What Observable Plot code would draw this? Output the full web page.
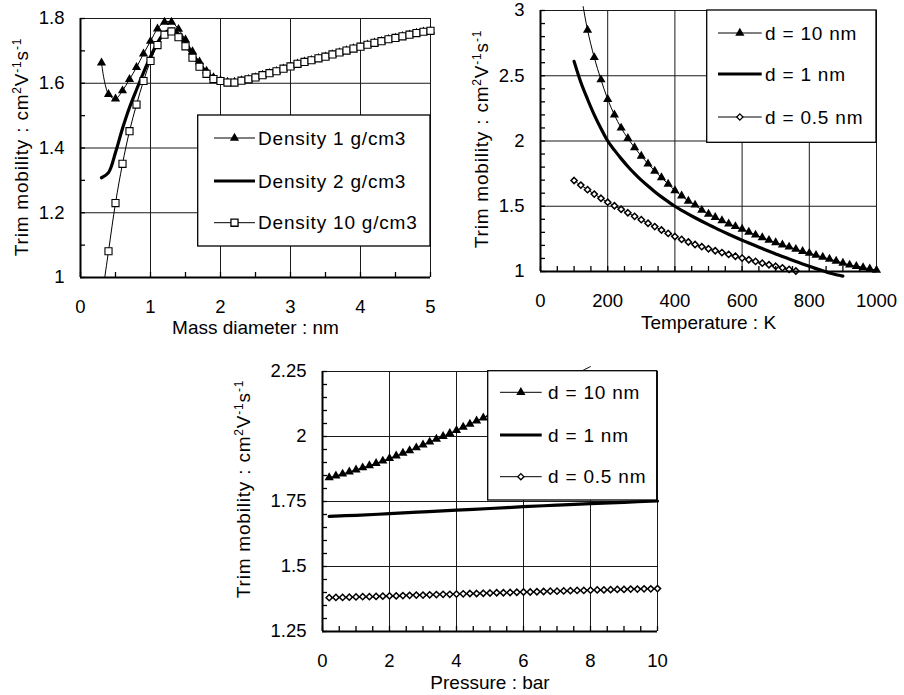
<!DOCTYPE html>
<html><head><meta charset="utf-8">
<script src="https://cdn.jsdelivr.net/npm/d3@7"></script>
<script src="https://cdn.jsdelivr.net/npm/@observablehq/plot@0.6"></script>
<style>
html,body{margin:0;padding:0;background:#fff;}
#wrap{position:relative;width:904px;height:695px;overflow:hidden;background:#fff;font-family:'Liberation Sans',Arial,sans-serif;}
#wrap svg{position:absolute;overflow:visible;}
g[aria-label="axis-title"] text, text.ytitle, text.legtext{letter-spacing:0.8px;}
</style></head><body><div id="wrap"></div>
<script>
// ---------- Panel 1 : mobility vs mass diameter ----------
const xDiam = [0.3,0.4,0.5,0.6,0.7,0.8,0.9,1.0,1.1,1.2,1.3,1.4,1.5,1.6,1.7,1.8,1.9,2.0,2.1,2.2,2.3,2.4,2.5,2.6,2.7,2.8,2.9,3.0,3.1,3.2,3.3,3.4,3.5,3.6,3.7,3.8,3.9,4.0,4.1,4.2,4.3,4.4,4.5,4.6,4.7,4.8,4.9,5.0];
const mobDensity1 = [1.663,1.566,1.552,1.577,1.612,1.649,1.691,1.730,1.768,1.789,1.789,1.767,1.734,1.698,1.666,1.638,1.618,1.609,1.604,1.604,1.608,1.612,1.618,1.625,1.631,1.637,1.645,1.652,1.660,1.666,1.671,1.677,1.682,1.689,1.695,1.701,1.707,1.713,1.719,1.725,1.730,1.736,1.740,1.745,1.750,1.755,1.759,1.762];
const mobDensity2 = [1.308,1.324,1.386,1.460,1.525,1.580,1.633,1.682,1.725,1.755,1.765,1.752,1.724,1.690,1.660,1.634,1.616,1.608,1.603,1.603,1.608,1.612,1.618,1.625,1.631,1.637,1.645,1.652,1.660,1.666,1.671,1.677,1.682,1.689,1.695,1.701,1.707,1.713,1.719,1.725,1.730,1.736,1.740,1.745,1.750,1.755,1.759,1.762];
const mobDensity10 = [0.930,1.081,1.230,1.351,1.452,1.534,1.607,1.669,1.718,1.750,1.760,1.742,1.714,1.679,1.651,1.629,1.613,1.607,1.602,1.602,1.608,1.612,1.618,1.625,1.631,1.637,1.645,1.652,1.660,1.666,1.671,1.677,1.682,1.689,1.695,1.701,1.707,1.713,1.719,1.725,1.730,1.736,1.740,1.745,1.750,1.755,1.759,1.762];
const legend1Labels = ["Density 1 g/cm3","Density 2 g/cm3","Density 10 g/cm3"];
const p1XTicks = [0,1,2,3,4,5];
const p1YTicks = [1,1.2,1.4,1.6,1.8];

// ---------- Panel 2 : mobility vs temperature ----------
const tempD10 = [127,140,160,180,200,220,240,260,280,300,320,340,360,380,400,420,440,460,480,500,520,540,560,580,600,620,640,660,680,700,720,740,760,780,800,820,840,860,880,900,920,940,960,980,1000];
const mobTD10 = [3.03,2.85,2.64,2.47,2.32,2.20,2.10,2.02,1.95,1.885,1.825,1.77,1.72,1.67,1.62,1.58,1.54,1.51,1.47,1.44,1.415,1.39,1.365,1.345,1.325,1.302,1.28,1.26,1.24,1.222,1.205,1.188,1.171,1.155,1.14,1.125,1.11,1.095,1.08,1.065,1.05,1.04,1.03,1.02,1.01];
const tempD1 = [100,120,140,160,180,200,220,240,260,280,300,320,340,360,380,400,420,440,460,480,500,520,540,560,580,600,620,640,660,680,700,720,740,760,780,800,820,840,860,880,900];
const mobTD1 = [2.61,2.45,2.32,2.20,2.095,2.00,1.93,1.865,1.805,1.75,1.70,1.655,1.612,1.572,1.535,1.50,1.469,1.44,1.412,1.385,1.359,1.334,1.309,1.285,1.262,1.24,1.218,1.197,1.176,1.155,1.135,1.115,1.096,1.077,1.058,1.04,1.022,1.005,0.988,0.975,0.965];
const tempD05 = [100,120,140,160,180,200,220,240,260,280,300,320,340,360,380,400,420,440,460,480,500,520,540,560,580,600,620,640,660,680,700,720,740,760];
const mobTD05 = [1.697,1.662,1.627,1.593,1.561,1.531,1.504,1.477,1.450,1.423,1.397,1.370,1.344,1.318,1.292,1.268,1.246,1.226,1.207,1.190,1.174,1.159,1.145,1.131,1.117,1.103,1.090,1.077,1.064,1.052,1.040,1.028,1.016,1.004];
const legendDLabels = ["d = 10 nm","d = 1 nm","d = 0.5 nm"];
const p2XTicks = [0,200,400,600,800,1000];
const p2YTicks = [1,1.5,2,2.5,3];

// ---------- Panel 3 : mobility vs pressure ----------
const presD10 = [0.2,0.4,0.6,0.8,1.0,1.2,1.4,1.6,1.8,2.0,2.2,2.4,2.6,2.8,3.0,3.2,3.4,3.6,3.8,4.0,4.2,4.4,4.6,4.8,5.0,5.2,5.4,5.6,5.8,6.0,6.2,6.4,6.6,6.8,7.0,7.2,7.4,7.6,7.8,8.0];
const mobPD10 = [1.842,1.849,1.856,1.864,1.872,1.880,1.888,1.897,1.906,1.916,1.926,1.936,1.946,1.957,1.968,1.979,1.990,2.001,2.012,2.024,2.036,2.048,2.060,2.072,2.084,2.096,2.108,2.120,2.132,2.144,2.156,2.168,2.180,2.192,2.204,2.217,2.230,2.243,2.256,2.269];
const presD1 = [0.2,1,2,3,4,5,6,7,8,9,10];
const mobPD1 = [1.693,1.697,1.703,1.710,1.717,1.723,1.730,1.736,1.742,1.747,1.752];
const presD05 = [0.2,0.4,0.6,0.8,1.0,1.2,1.4,1.6,1.8,2.0,2.2,2.4,2.6,2.8,3.0,3.2,3.4,3.6,3.8,4.0,4.2,4.4,4.6,4.8,5.0,5.2,5.4,5.6,5.8,6.0,6.2,6.4,6.6,6.8,7.0,7.2,7.4,7.6,7.8,8.0,8.2,8.4,8.6,8.8,9.0,9.2,9.4,9.6,9.8,10.0];
const mobPD05 = [1.380,1.381,1.381,1.382,1.383,1.384,1.384,1.385,1.386,1.387,1.387,1.388,1.389,1.390,1.390,1.391,1.392,1.393,1.393,1.394,1.395,1.396,1.396,1.397,1.398,1.399,1.399,1.400,1.401,1.402,1.402,1.403,1.404,1.405,1.405,1.406,1.407,1.408,1.408,1.409,1.410,1.410,1.411,1.412,1.412,1.413,1.413,1.414,1.414,1.415];
const p3XTicks = [0,2,4,6,8,10];
const p3YTicks = [1.25,1.5,1.75,2,2.25];

const yTitle = "Trim mobility : cm";
const xTitles = ["Mass diameter : nm","Temperature : K","Pressure : bar"];

const rows = (xs, ys) => xs.map((x, i) => ({x, y: ys[i]}));
const wrap = document.getElementById("wrap");
const TRI_R = 3.4, SQ_R = 4.0, DIA_R = 2.8;
const fmt = d => String(d);

function panel(cfg) {
  const fw = cfg.width - cfg.mL - cfg.mR, fh = cfg.height - cfg.mT - cfg.mB;
  const svg = Plot.plot({
    width: cfg.width, height: cfg.height,
    marginLeft: cfg.mL, marginRight: cfg.mR, marginTop: cfg.mT, marginBottom: cfg.mB,
    style: {fontFamily: "'Liberation Sans', Arial, sans-serif", fontSize: "18.5px", color: "black", background: "transparent", overflow: "visible"},
    x: {domain: cfg.xDom}, y: {domain: cfg.yDom},
    marks: [
      Plot.ruleX(cfg.xTicks.filter(v => v !== cfg.xDom[0]), {stroke: "#1a1a1a", strokeWidth: 1}),
      Plot.ruleY(cfg.yTicks.filter(v => v !== cfg.yDom[0]), {stroke: "#1a1a1a", strokeWidth: 1}),
      ...cfg.marks,
      Plot.ruleX(cfg.xMinor, {stroke: "black", strokeWidth: 1.3, insetTop: fh - 5}),
      Plot.ruleY(cfg.yMinor, {stroke: "black", strokeWidth: 1.3, insetRight: fw - 5}),
      Plot.ruleX([cfg.xDom[0]], {stroke: "black", strokeWidth: 2}),
      Plot.ruleY([cfg.yDom[0]], {stroke: "black", strokeWidth: 2}),
      Plot.axisX(cfg.xTicks, {tickSize: 0, tickPadding: 22, label: null, tickFormat: fmt}),
      Plot.axisY(cfg.yTicks, {tickSize: 0, tickPadding: 16, label: null, tickFormat: fmt}),
      Plot.text([cfg.xTitle], {frameAnchor: "bottom", lineAnchor: "bottom", dy: cfg.xTitleDy, fontSize: 19, ariaLabel: "axis-title"})
    ]
  });
  svg.style.left = cfg.left + "px";
  svg.style.top = cfg.top + "px";
  const t = d3.select(svg).append("text").attr("class", "ytitle")
    .attr("transform", `translate(${cfg.yTitleX},${cfg.yTitleY}) rotate(-90)`)
    .attr("text-anchor", "middle").attr("font-size", 19).attr("fill", "black");
  t.append("tspan").text(yTitle);
  t.append("tspan").attr("font-size", 12).attr("dy", -7).text("2");
  t.append("tspan").attr("dy", 7).text("V");
  t.append("tspan").attr("font-size", 12).attr("dy", -7).text("-1");
  t.append("tspan").attr("dy", 7).text("s");
  t.append("tspan").attr("font-size", 12).attr("dy", -7).text("-1");
  wrap.appendChild(svg);
}

// Panel 1
const p1D1 = rows(xDiam, mobDensity1), p1D2 = rows(xDiam, mobDensity2), p1D10 = rows(xDiam, mobDensity10);
panel({
  left: 0, top: 0, width: 450, height: 345, mL: 80, mR: 20, mT: 18, mB: 68,
  xDom: [0, 5], yDom: [1, 1.8], xTicks: p1XTicks, yTicks: p1YTicks,
  xMinor: d3.range(0, 5.01, 0.5), yMinor: d3.range(1, 1.801, 0.1),
  xTitle: xTitles[0], xTitleDy: 56, yTitleX: 27.5, yTitleY: 147,
  marks: [
    Plot.line(p1D2, {x: "x", y: "y", stroke: "black", strokeWidth: 3.2, curve: "catmull-rom"}),
    Plot.line(p1D1, {x: "x", y: "y", stroke: "black", strokeWidth: 1, curve: "catmull-rom"}),
    Plot.dot(p1D1, {x: "x", y: "y", symbol: "triangle", r: TRI_R, fill: "black", stroke: "none"}),
    Plot.line(p1D10, {x: "x", y: "y", stroke: "black", strokeWidth: 1, curve: "catmull-rom", clip: true}),
    Plot.dot(p1D10, {x: "x", y: "y", filter: d => d.y >= 1, symbol: "square", r: SQ_R, fill: "white", stroke: "black", strokeWidth: 1.1})
  ]
});

// Panel 2
const p2D10 = rows(tempD10, mobTD10), p2D1 = rows(tempD1, mobTD1), p2D05 = rows(tempD05, mobTD05);
panel({
  left: 450, top: 0, width: 454, height: 345, mL: 90, mR: 28, mT: 10, mB: 74,
  xDom: [0, 1000], yDom: [1, 3], xTicks: p2XTicks, yTicks: p2YTicks,
  xMinor: d3.range(0, 1001, 50), yMinor: d3.range(1, 3.001, 0.1),
  xTitle: xTitles[1], xTitleDy: 57, yTitleX: 37.5, yTitleY: 139,
  marks: [
    Plot.line(p2D1, {x: "x", y: "y", stroke: "black", strokeWidth: 3.2, curve: "catmull-rom"}),
    Plot.line(p2D05, {x: "x", y: "y", stroke: "black", strokeWidth: 1, curve: "catmull-rom"}),
    Plot.dot(p2D05, {x: "x", y: "y", symbol: "diamond2", r: DIA_R, fill: "white", stroke: "black", strokeWidth: 1.5}),
    Plot.line(p2D10, {x: "x", y: "y", stroke: "black", strokeWidth: 1, curve: "catmull-rom"}),
    Plot.dot(p2D10, {x: "x", y: "y", filter: d => d.x >= 140, symbol: "triangle", r: TRI_R, fill: "black", stroke: "none"})
  ]
});

// Panel 3
const p3D10 = rows(presD10, mobPD10), p3D1 = rows(presD1, mobPD1), p3D05 = rows(presD05, mobPD05);
panel({
  left: 220, top: 345, width: 460, height: 350, mL: 102, mR: 23, mT: 26, mB: 64,
  xDom: [0, 10], yDom: [1.25, 2.25], xTicks: p3XTicks, yTicks: p3YTicks,
  xMinor: d3.range(0, 10.01, 0.5), yMinor: d3.range(1.25, 2.2501, 0.05),
  xTitle: xTitles[2], xTitleDy: 57, yTitleX: 30, yTitleY: 144,
  marks: [
    Plot.line(p3D1, {x: "x", y: "y", stroke: "black", strokeWidth: 3.2, curve: "catmull-rom"}),
    Plot.line(p3D05, {x: "x", y: "y", stroke: "black", strokeWidth: 1}),
    Plot.dot(p3D05, {x: "x", y: "y", symbol: "diamond2", r: DIA_R, fill: "white", stroke: "black", strokeWidth: 1.5}),
    Plot.line(p3D10, {x: "x", y: "y", stroke: "black", strokeWidth: 1, curve: "catmull-rom"}),
    Plot.dot(p3D10, {x: "x", y: "y", filter: d => d.y <= 2.235, symbol: "triangle", r: TRI_R, fill: "black", stroke: "none"})
  ]
});

// ---------- Legends (overlay) ----------
const ov = d3.select(wrap).append("svg").attr("width", 904).attr("height", 695)
  .style("left", "0px").style("top", "0px").style("position", "absolute");
const symTri = {type: d3.symbolTriangle, size: Math.PI * TRI_R * TRI_R, fill: "black", stroke: "none"};
const symSq = {type: d3.symbolSquare, size: Math.PI * SQ_R * SQ_R, fill: "white", stroke: "black"};
const symDia = {type: d3.symbolDiamond2, size: Math.PI * DIA_R * DIA_R, fill: "white", stroke: "black"};
function legend(box, labels, styles) {
  const g = ov.append("g");
  g.append("rect").attr("x", box.x0).attr("y", box.y0).attr("width", box.x1 - box.x0).attr("height", box.y1 - box.y0)
    .attr("fill", "white").attr("stroke", "black").attr("stroke-width", 1.3);
  labels.forEach((lab, i) => {
    const y = box.rows[i], st = styles[i];
    g.append("line").attr("x1", box.lx1).attr("x2", box.lx2).attr("y1", y).attr("y2", y)
      .attr("stroke", "black").attr("stroke-width", st.sw);
    if (st.sym) {
      g.append("path").attr("d", d3.symbol(st.sym.type, st.sym.size)())
        .attr("transform", `translate(${(box.lx1 + box.lx2) / 2},${y})`)
        .attr("fill", st.sym.fill).attr("stroke", st.sym.stroke).attr("stroke-width", 1.3);
    }
    g.append("text").attr("class", "legtext").attr("x", box.tx).attr("y", y + 6.7)
      .attr("font-size", 19).attr("font-family", "'Liberation Sans', Arial, sans-serif").text(lab);
  });
}
legend({x0: 197.7, y0: 115, x1: 430, y1: 246, rows: [138, 181, 222.7], lx1: 214, lx2: 255, tx: 258},
  legend1Labels, [{sw: 1, sym: symTri}, {sw: 3.2}, {sw: 1, sym: symSq}]);
legend({x0: 706.7, y0: 10, x1: 876, y1: 142.3, rows: [33, 74, 117], lx1: 718, lx2: 761.7, tx: 765},
  legendDLabels, [{sw: 1, sym: symTri}, {sw: 3.2}, {sw: 1, sym: symDia}]);
legend({x0: 487.7, y0: 370.7, x1: 656.7, y1: 500, rows: [392.3, 435, 476.7], lx1: 500, lx2: 541.7, tx: 548},
  legendDLabels, [{sw: 1, sym: symTri}, {sw: 3.2}, {sw: 1, sym: symDia}]);
</script></body></html>
